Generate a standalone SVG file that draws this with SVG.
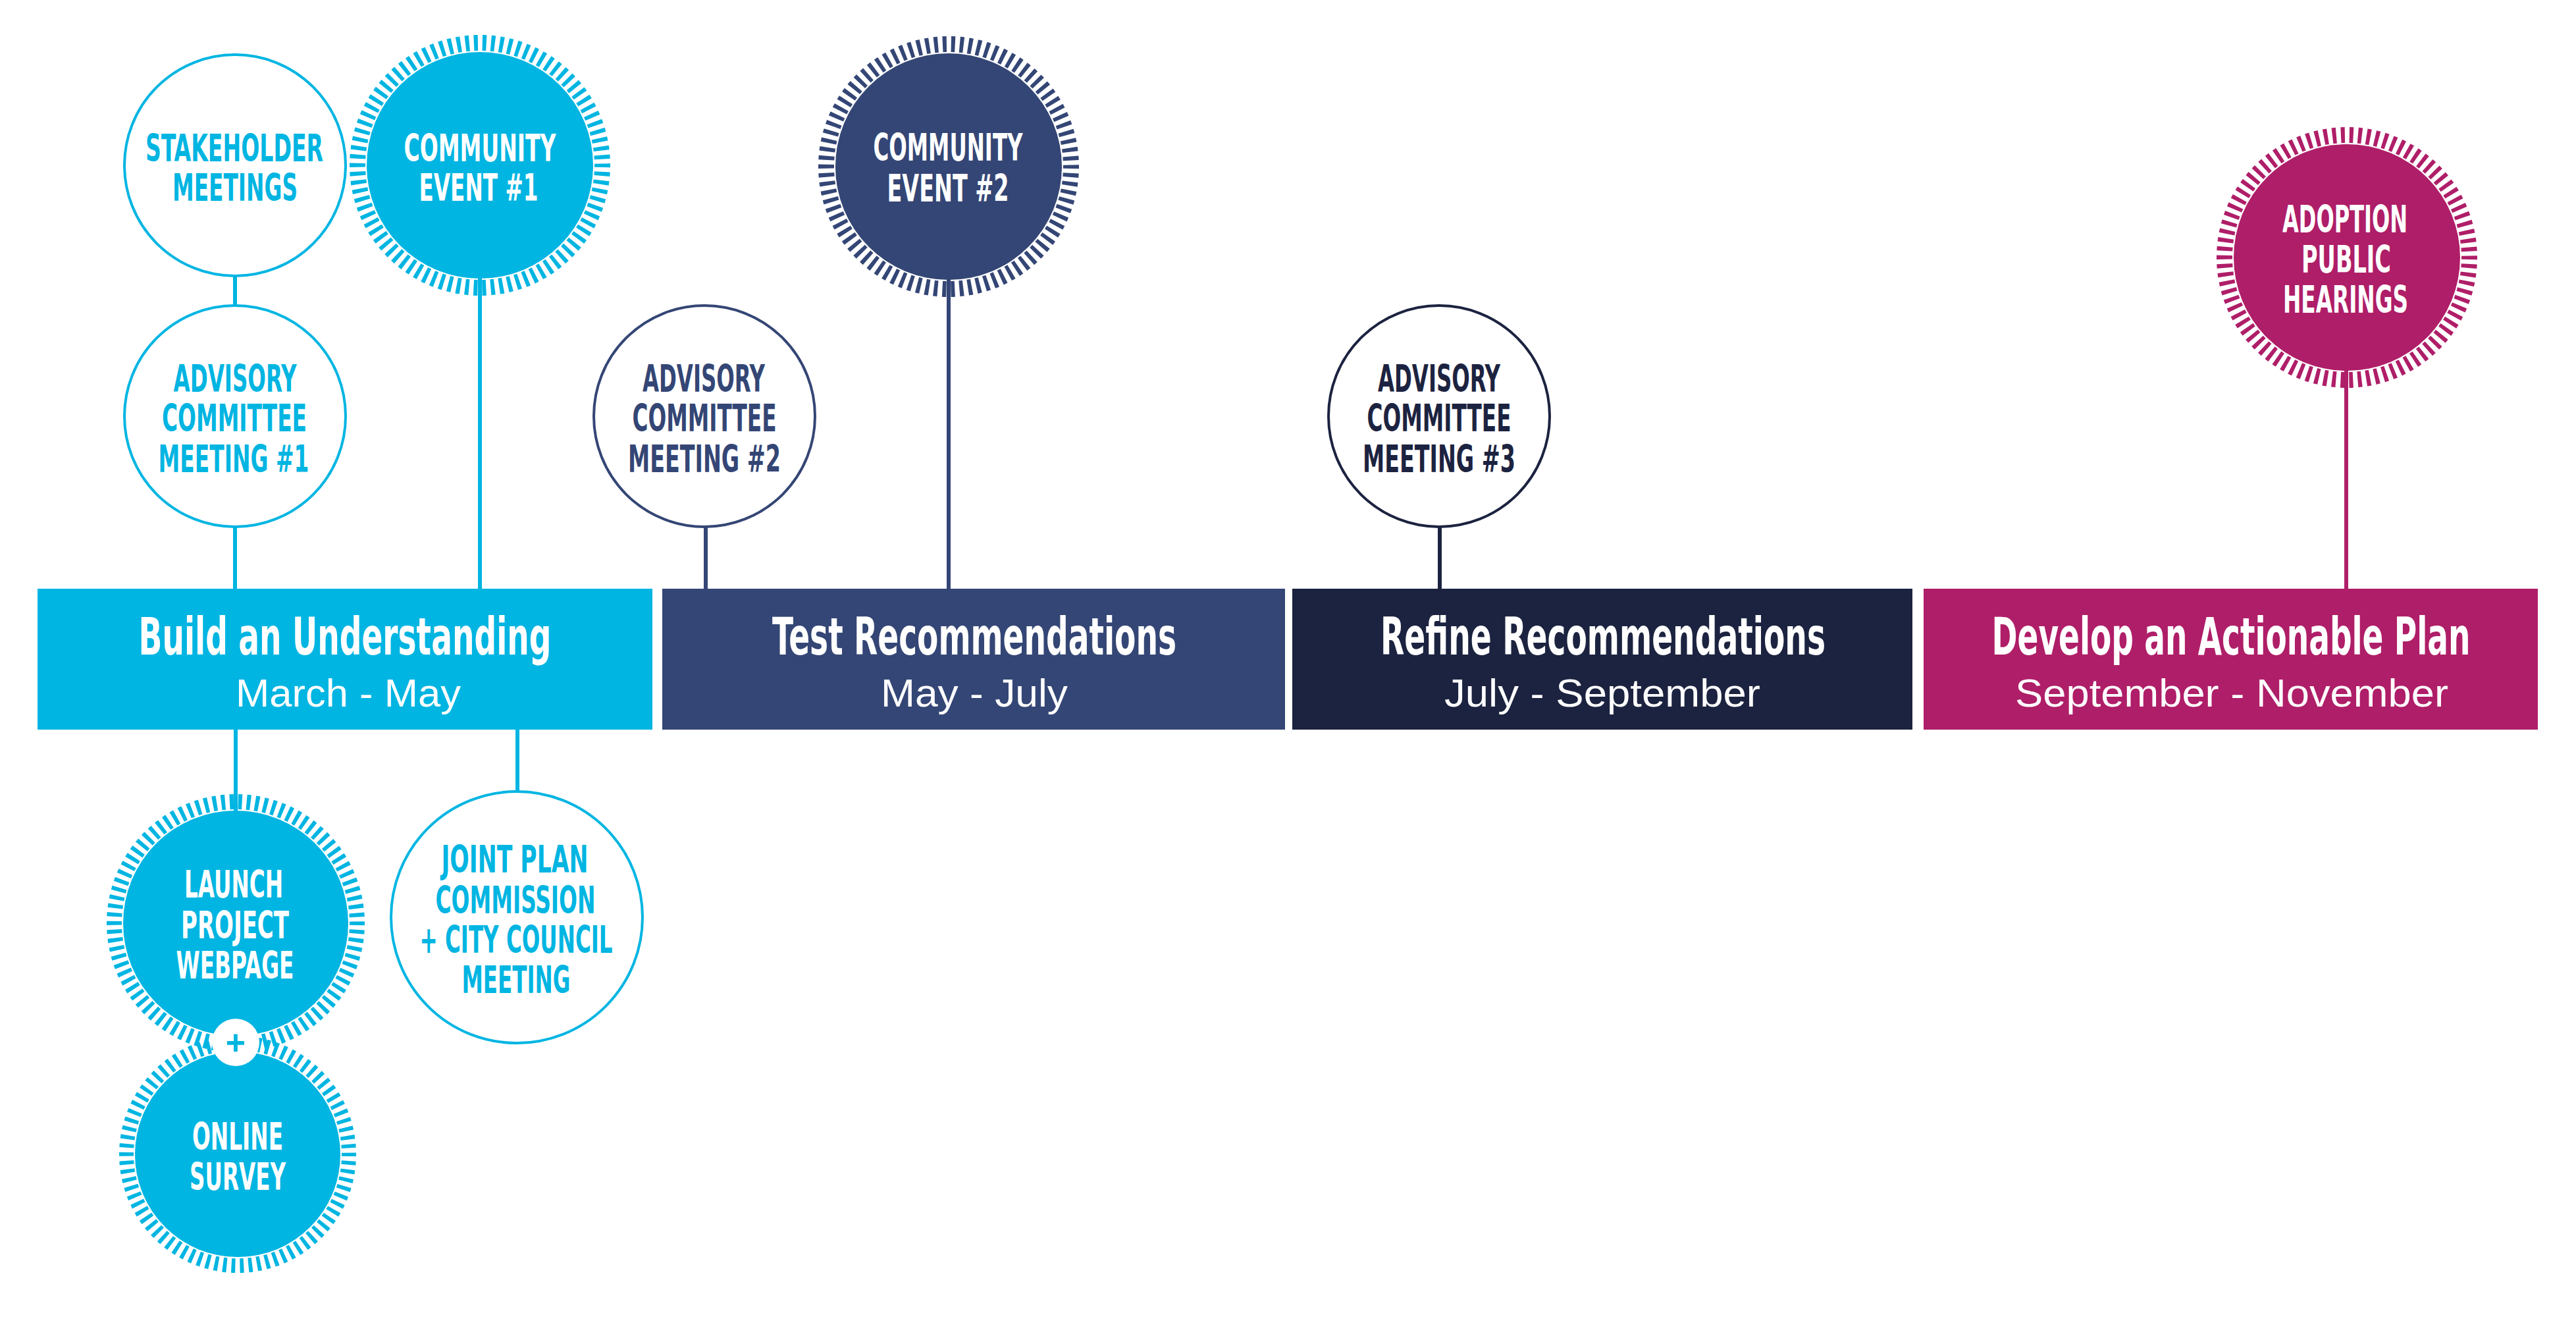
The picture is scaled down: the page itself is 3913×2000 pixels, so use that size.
<svg xmlns="http://www.w3.org/2000/svg" width="3913" height="2000" viewBox="0 0 3913 2000">
<style>
.nt{font-family:"Liberation Sans Narrow","DejaVu Sans Condensed","Liberation Sans",sans-serif;font-weight:bold;font-size:57px;text-anchor:middle}
.tt{font-family:"Liberation Sans Narrow","DejaVu Sans Condensed","Liberation Sans",sans-serif;font-weight:bold;font-size:78px;text-anchor:middle;fill:#fff}
.st{font-family:"Liberation Sans","DejaVu Sans",sans-serif;font-size:60px;text-anchor:middle;fill:#fff}
.w{fill:#fff}
.cy{fill:#00B5E2}
.ring{fill:none;stroke-width:24;stroke-dasharray:6 6.985;stroke-dashoffset:3}
.oc{fill:#fff;stroke-width:4}
.cn line{stroke-width:6}
</style>
<rect width="3913" height="2000" fill="#fff"/>
<g class="cn">
<line x1="357" y1="419" x2="357" y2="464" stroke="#00B5E2"/>
<line x1="357" y1="800" x2="357" y2="895" stroke="#00B5E2"/>
<line x1="729" y1="420" x2="729" y2="895" stroke="#00B5E2"/>
<line x1="1072" y1="800" x2="1072" y2="895" stroke="#344675"/>
<line x1="1441" y1="420" x2="1441" y2="895" stroke="#344675"/>
<line x1="2187" y1="800" x2="2187" y2="895" stroke="#1C2340"/>
<line x1="3564" y1="560" x2="3564" y2="895" stroke="#AF1E68"/>
<line x1="358" y1="1107" x2="358" y2="1235" stroke="#00B5E2"/>
<line x1="786" y1="1107" x2="786" y2="1203" stroke="#00B5E2"/>
</g>
<g id="phase-build">
<rect x="57" y="894" width="934" height="214" fill="#00B5E2"/>
<text class="tt" x="524" y="994" textLength="627" lengthAdjust="spacingAndGlyphs">Build an Understanding</text>
<text class="st" x="529" y="1073" textLength="342" lengthAdjust="spacingAndGlyphs">March - May</text>
</g>
<g id="phase-test">
<rect x="1006" y="894" width="946" height="214" fill="#344675"/>
<text class="tt" x="1480" y="994" textLength="614" lengthAdjust="spacingAndGlyphs">Test Recommendations</text>
<text class="st" x="1480" y="1073" textLength="284" lengthAdjust="spacingAndGlyphs">May - July</text>
</g>
<g id="phase-refine">
<rect x="1963" y="894" width="942" height="214" fill="#1C2340"/>
<text class="tt" x="2435" y="994" textLength="676" lengthAdjust="spacingAndGlyphs">Refine Recommendations</text>
<text class="st" x="2434" y="1073" textLength="480" lengthAdjust="spacingAndGlyphs">July - September</text>
</g>
<g id="phase-develop">
<rect x="2922" y="894" width="933" height="214" fill="#AF1E68"/>
<text class="tt" x="3389" y="994" textLength="727" lengthAdjust="spacingAndGlyphs">Develop an Actionable Plan</text>
<text class="st" x="3390" y="1073" textLength="658" lengthAdjust="spacingAndGlyphs">September - November</text>
</g>
<g id="stakeholder-meetings">
<circle class="oc" cx="357" cy="251" r="168" stroke="#00B5E2"/>
<text class="nt cy" x="356" y="245" textLength="270" lengthAdjust="spacingAndGlyphs">STAKEHOLDER</text>
<text class="nt cy" x="357" y="305" textLength="190" lengthAdjust="spacingAndGlyphs">MEETINGS</text>
</g>
<g id="community-event-1">
<circle cx="729" cy="251" r="172" fill="#00B5E2"/>
<circle class="ring" cx="729" cy="251" r="186" stroke="#00B5E2"/>
<text class="nt w" x="729" y="245" textLength="231" lengthAdjust="spacingAndGlyphs">COMMUNITY</text>
<text class="nt w" x="727" y="305" textLength="181" lengthAdjust="spacingAndGlyphs">EVENT #1</text>
</g>
<g id="advisory-committee-1">
<circle class="oc" cx="357" cy="632" r="168" stroke="#00B5E2"/>
<text class="nt cy" x="357" y="595" textLength="187" lengthAdjust="spacingAndGlyphs">ADVISORY</text>
<text class="nt cy" x="356" y="655" textLength="220" lengthAdjust="spacingAndGlyphs">COMMITTEE</text>
<text class="nt cy" x="355" y="717" textLength="229" lengthAdjust="spacingAndGlyphs">MEETING #1</text>
</g>
<g id="advisory-committee-2">
<circle class="oc" cx="1070" cy="632" r="168" stroke="#344675"/>
<text class="nt" fill="#344675" x="1069" y="595" textLength="186" lengthAdjust="spacingAndGlyphs">ADVISORY</text>
<text class="nt" fill="#344675" x="1070" y="655" textLength="219" lengthAdjust="spacingAndGlyphs">COMMITTEE</text>
<text class="nt" fill="#344675" x="1070" y="717" textLength="232" lengthAdjust="spacingAndGlyphs">MEETING #2</text>
</g>
<g id="community-event-2">
<circle cx="1441" cy="253" r="172" fill="#344675"/>
<circle class="ring" cx="1441" cy="253" r="186" stroke="#344675"/>
<text class="nt w" x="1440" y="244" textLength="227" lengthAdjust="spacingAndGlyphs">COMMUNITY</text>
<text class="nt w" x="1440" y="306" textLength="185" lengthAdjust="spacingAndGlyphs">EVENT #2</text>
</g>
<g id="advisory-committee-3">
<circle class="oc" cx="2186" cy="632" r="168" stroke="#1C2340"/>
<text class="nt" fill="#1C2340" x="2186" y="595" textLength="186" lengthAdjust="spacingAndGlyphs">ADVISORY</text>
<text class="nt" fill="#1C2340" x="2186" y="655" textLength="219" lengthAdjust="spacingAndGlyphs">COMMITTEE</text>
<text class="nt" fill="#1C2340" x="2186" y="717" textLength="232" lengthAdjust="spacingAndGlyphs">MEETING #3</text>
</g>
<g id="adoption-public-hearings">
<circle cx="3565" cy="391" r="172" fill="#AF1E68"/>
<circle class="ring" cx="3565" cy="391" r="186" stroke="#AF1E68"/>
<text class="nt w" x="3562" y="353" textLength="190" lengthAdjust="spacingAndGlyphs">ADOPTION</text>
<text class="nt w" x="3564" y="414" textLength="136" lengthAdjust="spacingAndGlyphs">PUBLIC</text>
<text class="nt w" x="3563" y="475" textLength="190" lengthAdjust="spacingAndGlyphs">HEARINGS</text>
</g>
<g id="launch-project-webpage">
<circle cx="358" cy="1402" r="171" fill="#00B5E2"/>
<circle cx="358" cy="1402" r="184.5" fill="none" stroke="#00B5E2" stroke-width="23" stroke-dasharray="6 6.88" stroke-dashoffset="3"/>
<text class="nt w" x="355" y="1363" textLength="150" lengthAdjust="spacingAndGlyphs">LAUNCH</text>
<text class="nt w" x="357" y="1425" textLength="164" lengthAdjust="spacingAndGlyphs">PROJECT</text>
<text class="nt w" x="357" y="1486" textLength="179" lengthAdjust="spacingAndGlyphs">WEBPAGE</text>
</g>
<g id="online-survey">
<circle cx="361" cy="1753" r="156" fill="#00B5E2"/>
<circle cx="361" cy="1753" r="169" fill="none" stroke="#00B5E2" stroke-width="22" stroke-dasharray="5.8 7.15" stroke-dashoffset="2.9"/>
<text class="nt w" x="361" y="1746" textLength="138" lengthAdjust="spacingAndGlyphs">ONLINE</text>
<text class="nt w" x="361" y="1807" textLength="146" lengthAdjust="spacingAndGlyphs">SURVEY</text>
</g>
<g id="plus-join">
<circle cx="358" cy="1583" r="36" fill="#fff"/>
<text x="358" y="1601" font-family="Liberation Sans, Arial, sans-serif" font-weight="bold" font-size="52" text-anchor="middle" fill="#00B5E2">+</text>
</g>
<g id="joint-plan-meeting">
<circle class="oc" cx="785" cy="1393" r="191" stroke="#00B5E2"/>
<text class="nt cy" x="782" y="1325" textLength="223" lengthAdjust="spacingAndGlyphs">JOINT PLAN</text>
<text class="nt cy" x="783" y="1387" textLength="243" lengthAdjust="spacingAndGlyphs">COMMISSION</text>
<text class="nt cy" x="784" y="1447" textLength="293" lengthAdjust="spacingAndGlyphs">+ CITY COUNCIL</text>
<text class="nt cy" x="784" y="1508" textLength="165" lengthAdjust="spacingAndGlyphs">MEETING</text>
</g>
</svg>
